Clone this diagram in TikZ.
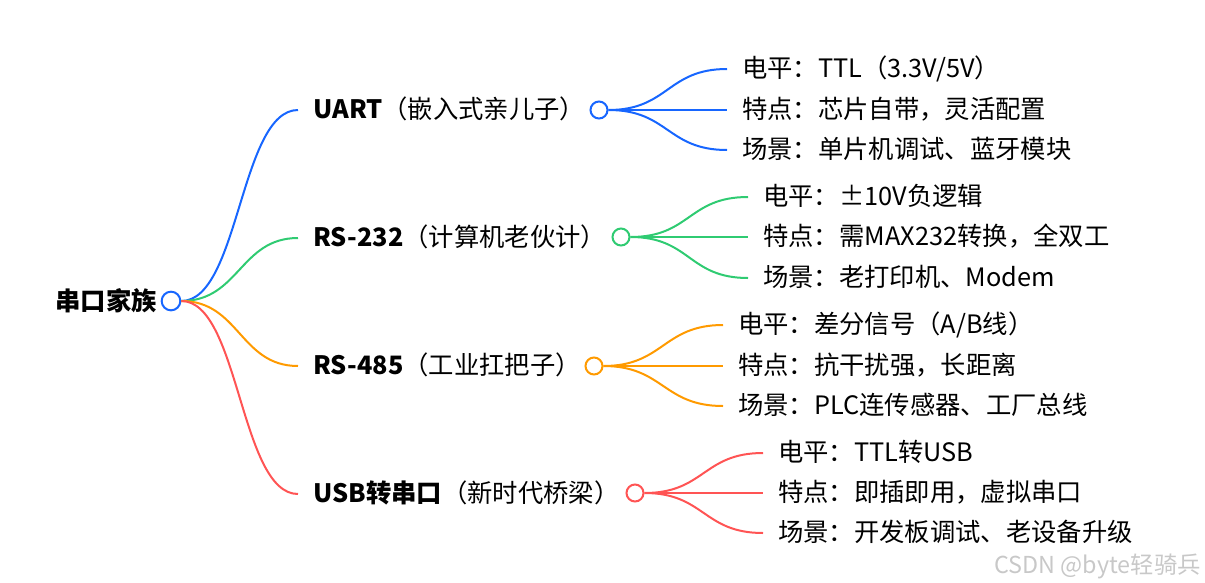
\documentclass[tikz,border=0pt]{standalone}
\usepackage{fontspec}
\setmainfont{Noto Sans CJK SC}
\definecolor{cblue}{HTML}{1766FF}
\definecolor{cgreen}{HTML}{2FCB72}
\definecolor{corange}{HTML}{FF9A00}
\definecolor{cred}{HTML}{FF5454}
\definecolor{wmgray}{HTML}{C8C8C8}
\begin{document}
\begin{tikzpicture}[x=0.75pt,y=-0.75pt,
  txt/.style={anchor=west, inner xsep=11.25pt, inner ysep=0pt, text height=1.3em, text depth=0pt, font=\fontsize{19}{22}\selectfont},
  dot/.style={circle, draw, line width=1.5pt, fill=white, inner sep=0pt, minimum size=12.75pt},
  link/.style={line width=1.5pt}]
\useasboundingbox (0,0) rectangle (1205,582);

% root
\node[dot, draw=cblue, minimum size=14pt] (root) at (171,301) {};
\node[txt, anchor=east, inner xsep=0pt, font=\fontsize{19}{22}\selectfont\bfseries] (roottxt) at (157,302) {串口家族};

% branch labels
\node[txt] (b1) at (298,110) {\textbf{UART}（嵌入式亲儿子）};
\node[txt] (b2) at (298,238) {\textbf{RS-232}（计算机老伙计）};
\node[txt] (b3) at (298,366) {\textbf{RS-485}（工业扛把子）};
\node[txt] (b4) at (298,494) {\textbf{USB转串口}（新时代桥梁）};

% branch circles
\node[dot, draw=cblue] (c1) at (599,110) {};
\node[dot, draw=cgreen] (c2) at (621,237) {};
\node[dot, draw=corange] (c3) at (594,366) {};
\node[dot, draw=cred] (c4) at (635,493) {};

% leaves
\node[txt] (l1a) at (727,69) {电平：TTL（3.3V/5V）};
\node[txt] (l1b) at (727,110) {特点：芯片自带，灵活配置};
\node[txt] (l1c) at (727,150) {场景：单片机调试、蓝牙模块};

\node[txt] (l2a) at (748,197) {电平：±10V负逻辑};
\node[txt] (l2b) at (748,237) {特点：需MAX232转换，全双工};
\node[txt] (l2c) at (748,278) {场景：老打印机、Modem};

\node[txt] (l3a) at (723,325) {电平：差分信号（A/B线）};
\node[txt] (l3b) at (723,366) {特点：抗干扰强，长距离};
\node[txt] (l3c) at (723,406) {场景：PLC连传感器、工厂总线};

\node[txt] (l4a) at (763,453) {电平：TTL转USB};
\node[txt] (l4b) at (763,493) {特点：即插即用，虚拟串口};
\node[txt] (l4c) at (763,533) {场景：开发板调试、老设备升级};

% root links
\draw[link, cblue] (root.east) .. controls +(58,0) and +(-58,0) .. (b1.west);
\draw[link, cgreen] (root.east) .. controls +(58,0) and +(-58,0) .. (b2.west);
\draw[link, corange] (root.east) .. controls +(58,0) and +(-58,0) .. (b3.west);
\draw[link, cred] (root.east) .. controls +(58,0) and +(-58,0) .. (b4.west);

% leaf links
\foreach \c/\col in {1/cblue,2/cgreen,3/corange,4/cred}{
  \foreach \l in {a,b,c}{
    \draw[link, \col] (c\c.east) .. controls +(60,0) and +(-60,0) .. (l\c\l.west);
  }
}

% watermark
\node[anchor=east, inner sep=0pt, text=wmgray, font=\fontsize{17.5}{20}\selectfont] (wm) at (1201,566) {CSDN @byte轻骑兵};
\end{tikzpicture}
\end{document}
